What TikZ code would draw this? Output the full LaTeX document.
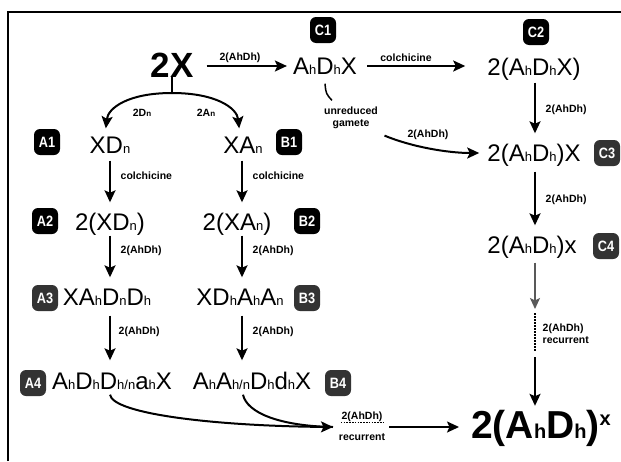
\documentclass[tikz,border=0pt]{standalone}
\usepackage{fontspec}
\setmainfont{Liberation Sans}
\newfontfamily\badgefont[FakeStretch=0.85]{Liberation Sans}
\usetikzlibrary{arrows.meta}
\newcommand{\sh}[1]{{\fontsize{13}{13}\selectfont #1}}
\newcommand{\fh}[1]{{\fontsize{20}{20}\selectfont\bfseries #1}}
\newcommand{\lh}[1]{{\fontsize{8}{8}\selectfont #1}}
\tikzset{
  main/.style={font=\fontsize{24}{24}\selectfont, inner sep=0pt, text height=17pt, text depth=0pt},
  lab/.style={font=\bfseries\fontsize{10.5}{12}\selectfont, inner sep=0.5pt},
  badge/.style={fill=black, rounded corners=6pt, minimum width=26pt, minimum height=26pt, inner sep=0pt, text=white, font=\badgefont\bfseries\fontsize{15}{15}\selectfont},
  badgeg/.style={badge, fill=black!80},
  arr/.style={line width=2pt, -{Stealth[length=12pt,width=11pt,inset=2.5pt]}},
  plain/.style={line width=2pt},
}
\begin{document}
\begin{tikzpicture}[x=1pt,y=-1pt]
\useasboundingbox (0,0) rectangle (621,461);
\fill[white] (0,0) rectangle (621,461);
\draw[line width=1.6pt] (8,461) -- (8,12) -- (621,12);

% main nodes
\node[font=\bfseries\fontsize{35}{35}\selectfont, inner sep=0pt, text height=25pt, text depth=0pt] (n2X) at (172,64.5) {2X};
\node[main] (c1t) at (325,66) {A\sh{h}D\sh{h}X};
\node[main] (c2t) at (534,67) {2(A\sh{h}D\sh{h}X)};
\node[main] (c3t) at (534,153) {2(A\sh{h}D\sh{h})X};
\node[main] (c4t) at (532,245) {2(A\sh{h}D\sh{h})x};
\node[main] (a1t) at (110,145) {XD\sh{n}};
\node[main] (b1t) at (243,145) {XA\sh{n}};
\node[main] (a2t) at (110,222) {2(XD\sh{n})};
\node[main] (b2t) at (237,222) {2(XA\sh{n})};
\node[main] (a3t) at (107,297) {XA\sh{h}D\sh{n}D\sh{h}};
\node[main] (b3t) at (240,297) {XD\sh{h}A\sh{h}A\sh{n}};
\node[main] (a4t) at (112,381) {A\sh{h}D\sh{h}D\sh{h/n}a\sh{h}X};
\node[main] (b4t) at (252,381) {A\sh{h}A\sh{h/n}D\sh{h}d\sh{h}X};
\node[font=\bfseries\fontsize{39}{39}\selectfont, inner sep=0pt, text height=28pt, text depth=0pt] (fin) at (541,424) {2(A\fh{h}D\fh{h})\raisebox{13pt}{\fh{x}}};

% badges
\node[badge] (bC1) at (323,30) {C1};
\node[badge] (bC2) at (536,32) {C2};
\node[badgeg] (bC3) at (607,153) {C3};
\node[badgeg] (bC4) at (606,246) {C4};
\node[badge] (bA1) at (47,142) {A1};
\node[badge] (bB1) at (289,142) {B1};
\node[badge] (bA2) at (45,221) {A2};
\node[badge] (bB2) at (307,221) {B2};
\node[badgeg] (bA3) at (45,298) {A3};
\node[badgeg] (bB3) at (307,298) {B3};
\node[badgeg] (bA4) at (33,383) {A4};
\node[badgeg] (bB4) at (338,383) {B4};

% top row
\draw[arr, shorten <=13pt, shorten >=6pt] (n2X.east |- c1t) -- (c1t.west);
\node[lab] (l1) at (240,58) {2(AhDh)};
\draw[arr, shorten <=10pt, shorten >=22pt] (c1t.east) -- (c2t.west |- c1t);
\node[lab] (l2) at (406,58) {colchicine};

% C column
\draw[arr, shorten <=7pt, shorten >=11pt] ([shift={(1,0)}]c2t.south) -- ([shift={(1,0)}]c3t.north);
\node[lab, anchor=west] (l3) at (545,110) {2(AhDh)};
\draw[arr, shorten <=10pt, shorten >=11pt] ([shift={(1,0)}]c3t.south) -- ([shift={(3,0)}]c4t.north);
\node[lab, anchor=west] (l4) at (545,200) {2(AhDh)};
\coordinate (g1) at (535,309);
\coordinate (g2) at (535,313);
\coordinate (g3) at (535,351);
\draw[line width=1.6pt, black!65, -{Stealth[length=11pt,width=10pt,inset=2.5pt]}, shorten <=9pt] (c4t.south -| g1) -- (g1);
\draw[line width=1.6pt, dash pattern=on 1.5pt off 1.5pt] (g2) -- (g3);
\node[lab, anchor=west, align=left] (l5) at (542,334) {2(AhDh)\\recurrent};
\draw[arr, shorten <=6pt, shorten >=4pt] (g3) -- (fin.north -| g3);

% unreduced gamete
\node[lab, align=center] (ug) at (351,118) {unreduced\\gamete};
\draw[line width=1.5pt] ([shift={(0,9)}]c1t.south) .. controls ([shift={(1,19)}]c1t.south) .. ([shift={(-19,-6)}]ug.north);
\draw[arr, shorten >=8pt] ([shift={(6,6)}]ug.south east) .. controls (412,147) and (448,153) .. (c3t.west);
\node[lab] (l6) at (428,135) {2(AhDh)};

% 2X split
\coordinate (fork) at (172,93);
\draw[plain] (n2X.south) -- (fork);
\draw[arr, shorten >=8pt] (fork) .. controls (128,93) and (108,108) .. ([shift={(-5,0)}]a1t.north);
\draw[arr, shorten >=8pt] (fork) .. controls (216,93) and (237,108) .. ([shift={(-3,0)}]b1t.north);
\node[lab] (l7) at (142,113) {2D\lh{n}};
\node[lab] (l8) at (206,113) {2A\lh{n}};

% A and B columns
\draw[arr, shorten <=7pt, shorten >=11pt] (a1t.south) -- (a2t.north);
\node[lab, anchor=west] (l9) at (120,176) {colchicine};
\draw[arr, shorten <=7pt, shorten >=11pt] ([shift={(-1,0)}]b1t.south) -- ([shift={(5,0)}]b2t.north);
\node[lab, anchor=west] (l10) at (252,176) {colchicine};
\draw[arr, shorten <=5pt, shorten >=11pt] (a2t.south) -- ([shift={(3,0)}]a3t.north);
\node[lab, anchor=west] (l11) at (120,251) {2(AhDh)};
\draw[arr, shorten <=5pt, shorten >=11pt] ([shift={(5,0)}]b2t.south) -- ([shift={(2,0)}]b3t.north);
\node[lab, anchor=west] (l12) at (252,251) {2(AhDh)};
\draw[arr, shorten <=10pt, shorten >=12pt] ([shift={(3,0)}]a3t.south) -- ([shift={(-2,0)}]a4t.north);
\node[lab, anchor=west] (l13) at (118,332) {2(AhDh)};
\draw[arr, shorten <=10pt, shorten >=12pt] ([shift={(2,0)}]b3t.south) -- ([shift={(-10,0)}]b4t.north);
\node[lab, anchor=west] (l14) at (252,332) {2(AhDh)};

% bottom merge
\coordinate (m) at (333,427);
\draw[plain] ([shift={(-9,5)}]b4t.south) .. controls (247,413) and (280,426) .. (m);
\draw[arr] ([shift={(-2,5)}]a4t.south) .. controls (113,414) and (215,426) .. (m);
\node[lab] (bl1) at (362,417) {2(AhDh)};
\node[lab] (bl2) at (362,437) {recurrent};
\draw[line width=1.4pt, dash pattern=on 1.5pt off 1.3pt] (bl1.south west) -- (bl1.south east);
\draw[arr, shorten <=6pt, shorten >=12pt] (bl1.east |- m) -- (fin.west |- m);
\end{tikzpicture}
\end{document}
